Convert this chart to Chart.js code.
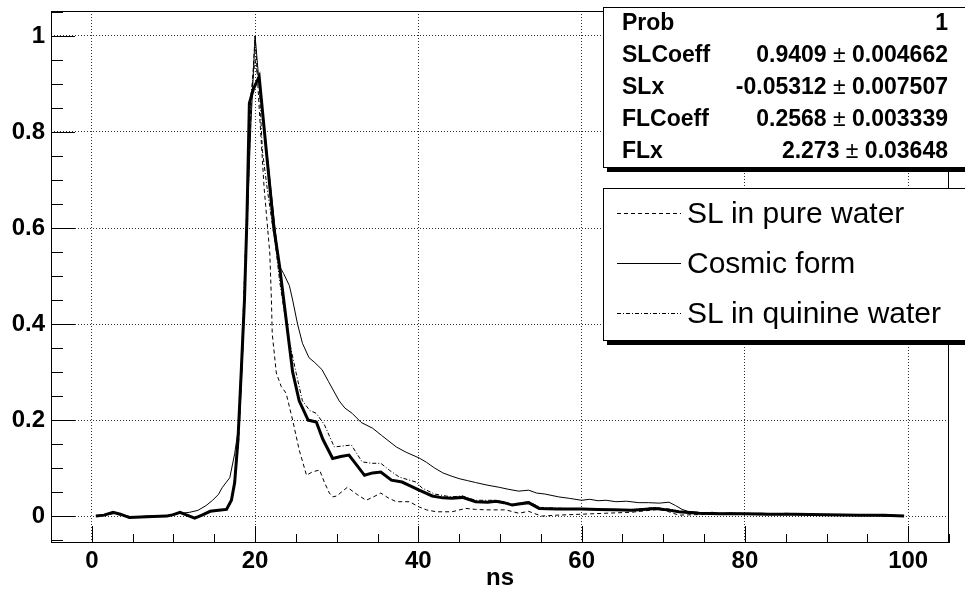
<!DOCTYPE html>
<html>
<head>
<meta charset="utf-8">
<script src="https://cdn.jsdelivr.net/npm/chart.js@4.4.1/dist/chart.umd.min.js"></script>
<style>
body { margin: 0; background: #fff; overflow: hidden; font-family: 'Liberation Sans', Arial, sans-serif; }
#wrap { position: relative; width: 965px; height: 594px; overflow: hidden; }
#stats { position: absolute; left: 603px; top: 7px; width: 380px; height: 159px; border: 1px solid #000;
         background: #fff; box-shadow: 4px 4px 0 #000; font-weight: bold; font-size: 23px; color: #000; }
#stats .row { position: absolute; left: 0; width: 344px; height: 32px; line-height: 32px; }
#stats .k { position: absolute; left: 18px; }
#stats .v { position: absolute; right: 0; white-space: nowrap; }
#stats .pm { font-weight: normal; }
#legend { position: absolute; left: 603px; top: 188px; width: 380px; height: 151px; border: 1px solid #000;
          background: #fff; box-shadow: 4px 4px 0 #000; font-size: 30px; color: #000; }
#legend .ent { position: absolute; left: 0; width: 370px; height: 40px; }
#legend svg { position: absolute; left: 13px; top: 0; }
#legend span { position: absolute; left: 83px; top: 0; line-height: 40px; white-space: nowrap; }
</style>
</head>
<body>
<div id="wrap">
  <canvas id="c" width="965" height="594"></canvas>
  <div id="stats"></div>
  <div id="legend"></div>
</div>
<script>
// axis ranges (ns on x, normalised amplitude on y)
const X_MIN = -5, X_MAX = 105;
const Y_MIN = -0.056, Y_MAX = 1.052;

const seriesNames = ["SL in pure water", "Cosmic form", "SL in quinine water"];

// SL in pure water (dashed)
const pureX = [0.5, 2.6, 4.6, 7, 9, 10.8, 12.6, 14.5, 16, 16.9, 17.5, 18, 18.5, 19, 19.5, 20, 20.5, 21.1, 21.8, 22, 22.1,
  22.6, 23.2, 23.8, 24.6, 25.4, 26.3, 27, 27.9, 28.5, 29.1, 29.5, 30, 31.3, 32.5, 33.6, 34.5, 35.4, 36.3, 37.3, 38.9,
  40.1, 41, 42.2, 44.1, 45.8, 47, 48.3, 50.7, 52.3, 53.5, 55.1, 57, 60, 63, 66.1, 69.4, 70.5, 71.9, 74, 78, 82, 86,
  90, 95, 99.5];
const pureY = [0, 0.006, -0.003, 0, 0, 0.007, -0.004, 0.009, 0.012, 0.02, 0.07, 0.16, 0.35, 0.6, 0.85, 1.0, 0.85,
  0.685, 0.548, 0.45, 0.38, 0.298, 0.27, 0.256, 0.2, 0.138, 0.085, 0.092, 0.096, 0.07, 0.048, 0.04, 0.042, 0.06,
  0.045, 0.033, 0.04, 0.048, 0.038, 0.03, 0.03, 0.019, 0.013, 0.009, 0.009, 0.016, 0.014, 0.013, 0.013, 0.006, 0.01,
  0, 0.002, 0.004, 0.006, 0.008, 0.014, 0.01, 0.002, 0.003, 0.004, 0.003, 0.003, 0.002, 0.001, 0];

// Cosmic form (thin solid)
const cosmicX = [0.5, 2, 3, 4, 5, 7, 9, 10, 11, 12, 13, 14, 14.8, 15.5, 16, 16.9, 17.5, 18.1, 18.5, 19, 19.5, 20,
  20.5, 21, 21.5, 22, 22.5, 23, 23.5, 24.2, 24.6, 25.2, 25.8, 26.6, 27.3, 28.2, 29, 30.3, 31, 31.9, 33, 34.4, 35.5,
  37.3, 38.5, 40.1, 41, 42, 43, 44.1, 45, 46, 47, 48.3, 49.9, 51, 52.3, 53.5, 54.5, 55.5, 57.2, 58.5, 60, 61, 62, 63,
  64.2, 65.5, 67, 68.2, 69.5, 70.7, 71.5, 72.3, 73, 74.3, 75, 76, 77, 78, 80, 82, 84, 85, 87, 88, 90, 92, 94, 96, 97,
  98, 99.5];
const cosmicY = [0, 0.003, 0.006, 0.002, -0.002, 0, 0.001, 0.004, 0.006, 0.008, 0.012, 0.022, 0.033, 0.045, 0.06,
  0.08, 0.13, 0.2, 0.35, 0.6, 0.82, 1.0, 0.9, 0.83, 0.75, 0.67, 0.59, 0.52, 0.505, 0.48, 0.45, 0.4, 0.36, 0.33, 0.32,
  0.305, 0.28, 0.24, 0.225, 0.214, 0.195, 0.183, 0.168, 0.144, 0.133, 0.121, 0.112, 0.1, 0.09, 0.083, 0.078, 0.074,
  0.07, 0.065, 0.06, 0.056, 0.052, 0.054, 0.048, 0.046, 0.04, 0.037, 0.033, 0.035, 0.032, 0.033, 0.03, 0.031, 0.028,
  0.028, 0.027, 0.029, 0.022, 0.014, 0.01, 0.008, 0.006, 0.008, 0.005, 0.007, 0.005, 0.006, 0.004, 0.006, 0.004,
  0.002, 0.002, 0.003, 0.001, 0.002, 0, 0.002, 0];

// SL in quinine water (dash-dot)
const quinX = [0.5, 2.6, 4.6, 7, 9.2, 10.8, 12.6, 14.5, 16.5, 17.1, 17.5, 18, 18.5, 19, 19.5, 20, 20.5, 20.9, 21.5,
  22.6, 23, 24, 25, 25.8, 26.7, 27.5, 28.5, 29.7, 30.7, 31.8, 33.1, 34.3, 35.4, 36.5, 37.7, 39.7, 40.5, 42, 44, 45.4,
  47, 49.5, 51.5, 53.5, 55, 58, 62, 66, 69, 71, 72.5, 75, 80, 85, 90, 95, 99.5];
const quinY = [0, 0.007, -0.002, 0, 0.001, 0.008, -0.003, 0.011, 0.015, 0.035, 0.08, 0.2, 0.4, 0.65, 0.88, 0.95, 0.9,
  0.76, 0.68, 0.55, 0.49, 0.38, 0.3, 0.24, 0.22, 0.214, 0.19, 0.144, 0.146, 0.148, 0.113, 0.11, 0.11, 0.095, 0.081,
  0.071, 0.058, 0.046, 0.04, 0.042, 0.033, 0.033, 0.025, 0.03, 0.018, 0.016, 0.014, 0.013, 0.018, 0.014, 0.008,
  0.006, 0.006, 0.004, 0.003, 0.002, 0.001];

// fit result (thick solid)
const fitX = [0.5, 1.5, 2.6, 3.5, 4.6, 6, 7.5, 9.2, 10, 10.8, 11.5, 12.6, 13.5, 14.5, 15.5, 16.5, 17.1, 17.5, 17.9,
  18.3, 18.7, 19, 19.3, 19.8, 20.5, 21.4, 22.3, 23, 23.8, 24.6, 25.4, 26.5, 27.5, 28.3, 29.5, 30.5, 31.5, 32.5, 33.4,
  34.4, 35.4, 36.7, 38, 39, 40.1, 41.7, 43, 44.1, 45.4, 47, 48.5, 49.5, 50.5, 51.5, 52.3, 53.5, 54.8, 57, 60, 62, 64,
  66.1, 67.5, 69, 70.5, 71.9, 74.3, 77, 80, 83, 86, 90, 94, 97, 99.5];
const fitY = [0, 0.002, 0.008, 0.004, -0.003, -0.002, -0.001, 0, 0.003, 0.008, 0.003, -0.004, 0.002, 0.01, 0.012,
  0.014, 0.033, 0.07, 0.158, 0.3, 0.45, 0.62, 0.86, 0.89, 0.915, 0.756, 0.6, 0.52, 0.41, 0.3, 0.24, 0.2, 0.196, 0.16,
  0.12, 0.124, 0.127, 0.105, 0.085, 0.09, 0.092, 0.075, 0.071, 0.063, 0.054, 0.042, 0.038, 0.037, 0.039, 0.03, 0.029,
  0.031, 0.028, 0.023, 0.025, 0.028, 0.016, 0.015, 0.015, 0.014, 0.013, 0.012, 0.014, 0.016, 0.013, 0.009, 0.006,
  0.005, 0.005, 0.004, 0.004, 0.003, 0.002, 0.002, 0];

const statNames = ["Prob", "SLCoeff", "SLx", "FLCoeff", "FLx"];
const statValues = ["1", "0.9409", "-0.05312", "0.2568", "2.273"];
const statErrors = ["", "0.004662", "0.007507", "0.003339", "0.03648"];

function pts(xs, ys) {
    return xs.map((x, i) => ({x: x, y: ys[i]}));
}

const dashes = [[4, 3], [], [4, 2, 1, 2]];

// stats box
var stats_html = "";
for (let i = 0; i < statNames.length; i++) {
    var val = statValues[i];
    if (statErrors[i]) {
        val += " <span class='pm'>\u00b1</span> " + statErrors[i];
    }
    stats_html += "<div class='row' style='top:" + (-2 + 32 * i) + "px'><span class='k'>" + statNames[i] +
        "</span><span class='v'>" + val + "</span></div>";
}
document.getElementById("stats").innerHTML = stats_html;

// legend box
var leg_html = "";
for (let i = 0; i < seriesNames.length; i++) {
    leg_html += "<div class='ent' style='top:" + (4 + 50 * i) + "px'>" +
        "<svg width='64' height='40'><line x1='0' y1='20.5' x2='64' y2='20.5' stroke='#000' stroke-width='1' stroke-dasharray='" +
        dashes[i].join(",") + "'/></svg><span>" + seriesNames[i] + "</span></div>";
}
document.getElementById("legend").innerHTML = leg_html;

Chart.defaults.font.family = "'Liberation Sans', Arial, sans-serif";
Chart.defaults.color = "#000";

// ROOT-like frame with inward ticks
const rootFrame = {
    id: 'rootFrame',
    afterDatasetsDraw(chart) {
        const ctx = chart.ctx, a = chart.chartArea;
        const xs = chart.scales.x, ys = chart.scales.y;
        ctx.save();
        ctx.strokeStyle = '#000';
        ctx.lineWidth = 1;
        ctx.beginPath();
        for (let v = X_MIN; v <= X_MAX + 1e-9; v += 5) {
            const px = Math.round(xs.getPixelForValue(v)) + 0.5;
            const len = (Math.abs(v % 20) < 1e-9) ? 17 : 9;
            ctx.moveTo(px, a.bottom);
            ctx.lineTo(px, a.bottom - len);
        }
        for (let k = -1; k * 0.05 <= Y_MAX; k++) {
            const py = Math.round(ys.getPixelForValue(k * 0.05)) + 0.5;
            const len = (k % 4 === 0) ? 24 : 12;
            ctx.moveTo(a.left, py);
            ctx.lineTo(a.left + len, py);
        }
        ctx.stroke();
        ctx.strokeRect(a.left + 0.5, a.top + 0.5, a.right - a.left - 1, a.bottom - a.top - 1);
        ctx.restore();
    }
};

const ctx = document.getElementById("c").getContext("2d");
const chart = new Chart(ctx, {
    type: 'scatter',
    data: {
        datasets: [{
            label: 'Fit',
            data: pts(fitX, fitY),
            showLine: true, borderColor: '#000', borderWidth: 3, pointRadius: 0, order: 0
        }, {
            label: seriesNames[0],
            data: pts(pureX, pureY),
            showLine: true, borderColor: '#000', borderWidth: 1, borderDash: dashes[0], pointRadius: 0, order: 3
        }, {
            label: seriesNames[1],
            data: pts(cosmicX, cosmicY),
            showLine: true, borderColor: '#000', borderWidth: 1, pointRadius: 0, order: 2
        }, {
            label: seriesNames[2],
            data: pts(quinX, quinY),
            showLine: true, borderColor: '#000', borderWidth: 1, borderDash: dashes[2], pointRadius: 0, order: 1
        }]
    },
    options: {
        responsive: false,
        animation: false,
        layout: { padding: { top: 11, right: 16, left: 0, bottom: 0 } },
        plugins: { legend: { display: false }, tooltip: { enabled: false } },
        elements: { line: { tension: 0 } },
        scales: {
            x: {
                type: 'linear', min: X_MIN, max: X_MAX,
                afterFit: (s) => { s.height = 51; s.paddingLeft = 0; s.paddingRight = 0; },
                ticks: { stepSize: 20, includeBounds: false, padding: 4, font: { size: 24, weight: 'bold' } },
                grid: { color: '#333', lineWidth: 1, drawTicks: false },
                border: { display: false, dash: [1, 2] },
                title: { display: true, text: 'ns', font: { size: 24, weight: 'bold' }, padding: { top: 0, bottom: 1 } }
            },
            y: {
                type: 'linear', min: Y_MIN, max: Y_MAX,
                afterFit: (s) => { s.width = 51; s.paddingTop = 0; s.paddingBottom = 0; },
                ticks: {
                    stepSize: 0.2, includeBounds: false, padding: 6, font: { size: 24, weight: 'bold' },
                    callback: (v) => String(+v.toFixed(1))
                },
                grid: { color: '#333', lineWidth: 1, drawTicks: false },
                border: { display: false, dash: [1, 2] }
            }
        }
    },
    plugins: [rootFrame]
});
</script>
</body>
</html>
